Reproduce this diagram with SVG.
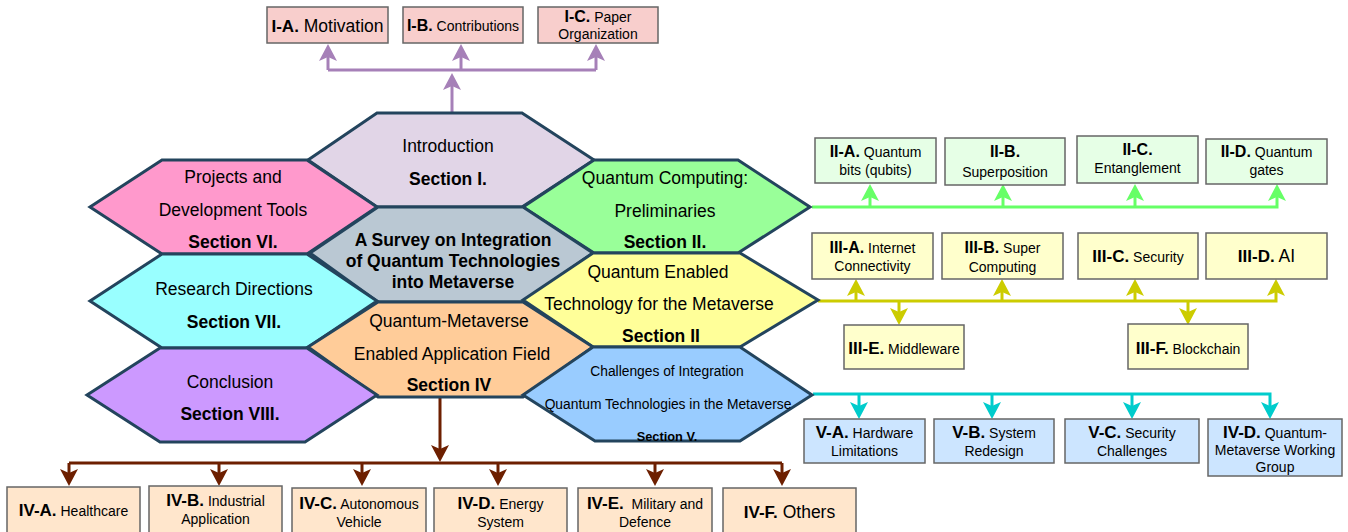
<svg xmlns="http://www.w3.org/2000/svg" width="1348" height="532" viewBox="0 0 1348 532">
<style>
text{font-family:"Liberation Sans",Arial,Helvetica,sans-serif;fill:#000;text-anchor:middle}
.hex{stroke:#23445D;stroke-width:3;stroke-linejoin:miter}
.h{font-size:17.5px}
.hb{font-size:17.5px;font-weight:bold}
.box{stroke:#666666;stroke-width:1.5}
.b{font-weight:bold;font-size:17px}
.b2{font-weight:bold;font-size:16px}
.n{font-size:14px}
.n16{font-size:17.5px}
.ln{fill:none;stroke-width:3}
.pink{fill:#F8CECC}.grn{fill:#E6FFE6}.yel{fill:#FFFFCC}.blu{fill:#CCE5FF}.brn{fill:#FFE6CC}
</style>
<defs>
<marker id="mp" markerUnits="userSpaceOnUse" markerWidth="17" markerHeight="18" viewBox="0 0 17 18" refX="5" refY="9" orient="auto"><path d="M0,0 L17,9 L0,18 L4,9 z" fill="#A680B8"/></marker>
<marker id="mg" markerUnits="userSpaceOnUse" markerWidth="17" markerHeight="18" viewBox="0 0 17 18" refX="5" refY="9" orient="auto"><path d="M0,0 L17,9 L0,18 L4,9 z" fill="#66FF66"/></marker>
<marker id="my" markerUnits="userSpaceOnUse" markerWidth="17" markerHeight="18" viewBox="0 0 17 18" refX="5" refY="9" orient="auto"><path d="M0,0 L17,9 L0,18 L4,9 z" fill="#CCCC00"/></marker>
<marker id="mc" markerUnits="userSpaceOnUse" markerWidth="17" markerHeight="18" viewBox="0 0 17 18" refX="5" refY="9" orient="auto"><path d="M0,0 L17,9 L0,18 L4,9 z" fill="#00CCCC"/></marker>
<marker id="mb" markerUnits="userSpaceOnUse" markerWidth="17" markerHeight="18" viewBox="0 0 17 18" refX="5" refY="9" orient="auto"><path d="M0,0 L17,9 L0,18 L4,9 z" fill="#6D1F00"/></marker>
</defs>
<rect width="1348" height="532" fill="#FFFFFF"/>

<g id="connectors">
<g stroke="#A680B8">
<path class="ln" d="M452,112 V85" marker-end="url(#mp)"/>
<path class="ln" d="M328,70 H596"/>
<path class="ln" d="M328,70 V56" marker-end="url(#mp)"/>
<path class="ln" d="M461,70 V56" marker-end="url(#mp)"/>
<path class="ln" d="M596,70 V56" marker-end="url(#mp)"/>
</g>
<g stroke="#66FF66">
<path class="ln" d="M812,207 H1277 V196" marker-end="url(#mg)"/>
<path class="ln" d="M870,207 V196" marker-end="url(#mg)"/>
<path class="ln" d="M1003,207 V196" marker-end="url(#mg)"/>
<path class="ln" d="M1135,207 V196" marker-end="url(#mg)"/>
</g>
<g stroke="#CCCC00">
<path class="ln" d="M818,301 H1276 V291" marker-end="url(#my)"/>
<path class="ln" d="M856,301 V291" marker-end="url(#my)"/>
<path class="ln" d="M1002,301 V291" marker-end="url(#my)"/>
<path class="ln" d="M1135,301 V291" marker-end="url(#my)"/>
<path class="ln" d="M899,301 V313" marker-end="url(#my)"/>
<path class="ln" d="M1188,301 V313" marker-end="url(#my)"/>
</g>
<g stroke="#00CCCC">
<path class="ln" d="M813,394 H1270 V407" marker-end="url(#mc)"/>
<path class="ln" d="M859,394 V407" marker-end="url(#mc)"/>
<path class="ln" d="M992,394 V407" marker-end="url(#mc)"/>
<path class="ln" d="M1132,394 V407" marker-end="url(#mc)"/>
</g>
<g stroke="#6D1F00">
<path class="ln" d="M440,398 V450" marker-end="url(#mb)"/>
<path class="ln" d="M69,463 H782"/>
<path class="ln" d="M69,463 V474" marker-end="url(#mb)"/>
<path class="ln" d="M219,463 V474" marker-end="url(#mb)"/>
<path class="ln" d="M362,463 V474" marker-end="url(#mb)"/>
<path class="ln" d="M498,463 V474" marker-end="url(#mb)"/>
<path class="ln" d="M655,463 V474" marker-end="url(#mb)"/>
<path class="ln" d="M782,463 V474" marker-end="url(#mb)"/>
</g>
</g>

<g id="hex-intro">
<polygon class="hex" fill="#E1D5E7" points="308,160 377,113 522,113 594,160 522,207 377,207"/>
<text class="h" x="448" y="152">Introduction</text>
<text class="hb" x="448" y="185">Section I.</text>
</g>
<g id="hex-projects">
<polygon class="hex" fill="#FF99CC" points="90,207 162,160 307,160 377,207 307,254 162,254"/>
<text class="h" x="233" y="183">Projects and</text>
<text class="h" x="233" y="216">Development Tools</text>
<text class="hb" x="233" y="248">Section VI.</text>
</g>
<g id="hex-qc">
<polygon class="hex" fill="#99FF99" points="523,207 594,160 738,160 810,207 738,253 594,253"/>
<text class="h" x="665" y="184">Quantum Computing:</text>
<text class="h" x="665" y="217">Preliminaries</text>
<text class="hb" x="665" y="248">Section II.</text>
</g>
<g id="hex-survey">
<polygon class="hex" fill="#BAC8D3" points="310,253 378,207 523,207 593,253 523,302 378,302"/>
<text class="hb" x="453" y="246">A Survey on Integration</text>
<text class="hb" x="453" y="267">of Quantum Technologies</text>
<text class="hb" x="453" y="288">into Metaverse</text>
</g>
<g id="hex-research">
<polygon class="hex" fill="#99FFFF" points="90,301 162,254 307,254 377,301 307,348 162,348"/>
<text class="h" x="234" y="295">Research Directions</text>
<text class="hb" x="234" y="328">Section VII.</text>
</g>
<g id="hex-qe">
<polygon class="hex" fill="#FFFF99" points="523,300 593,253 740,253 818,300 740,347 593,347"/>
<text class="h" x="658" y="278">Quantum Enabled</text>
<text class="h" x="659" y="310">Technology for the Metaverse</text>
<text class="hb" x="661" y="342">Section II</text>
</g>
<g id="hex-qm">
<polygon class="hex" fill="#FFCC99" points="308,347 378,302 523,302 593,347 523,397 378,397"/>
<text class="h" x="449" y="327">Quantum-Metaverse</text>
<text class="h" x="452" y="360">Enabled Application Field</text>
<text class="hb" x="449" y="391">Section IV</text>
</g>
<g id="hex-conclusion">
<polygon class="hex" fill="#CC99FF" points="87,395 160,348 307,348 377,395 305,442 160,442"/>
<text class="h" x="230" y="388">Conclusion</text>
<text class="hb" x="230" y="420">Section VIII.</text>
</g>
<g id="hex-challenges">
<polygon class="hex" fill="#99CCFF" points="523,395 593,347 740,347 812,395 740,441 595,441"/>
<text x="667" y="376" style="font-size:13.8px">Challenges of Integration</text>
<text x="668" y="409" style="font-size:13.8px">Quantum Technologies in the Metaverse</text>
<text x="667" y="441" style="font-size:12.8px;font-weight:bold">Section V.</text>
</g>

<g id="I-A"><rect class="box pink" x="267" y="7" width="121" height="36"/>
<text x="327.5" y="32"><tspan class="b">I-A.</tspan><tspan class="n16"> Motivation</tspan></text></g>
<g id="I-B"><rect class="box pink" x="403" y="7" width="120" height="36"/>
<text x="463" y="31"><tspan class="b2">I-B.</tspan><tspan class="n"> Contributions</tspan></text></g>
<g id="I-C"><rect class="box pink" x="538" y="7" width="120" height="36"/>
<text x="598" y="22"><tspan class="b2">I-C.</tspan><tspan class="n"> Paper</tspan></text>
<text class="n" x="598" y="39">Organization</text></g>

<g id="II-A"><rect class="box grn" x="815" y="138" width="121" height="45"/>
<text x="875.5" y="157"><tspan class="b2">II-A.</tspan><tspan class="n"> Quantum</tspan></text>
<text class="n" x="875.5" y="175">bits (qubits)</text></g>
<g id="II-B"><rect class="box grn" x="945" y="138" width="120" height="47"/>
<text class="b2" x="1005" y="157">II-B.</text>
<text class="n" x="1005" y="177">Superposition</text></g>
<g id="II-C"><rect class="box grn" x="1077" y="136" width="121" height="47"/>
<text class="b2" x="1137.5" y="155">II-C.</text>
<text class="n" x="1137.5" y="173">Entanglement</text></g>
<g id="II-D"><rect class="box grn" x="1206" y="139" width="121" height="45"/>
<text x="1266.5" y="157"><tspan class="b2">II-D.</tspan><tspan class="n"> Quantum</tspan></text>
<text class="n" x="1266.5" y="175">gates</text></g>

<g id="III-A"><rect class="box yel" x="812" y="233" width="121" height="46"/>
<text x="872.5" y="253"><tspan class="b2">III-A.</tspan><tspan class="n"> Internet</tspan></text>
<text class="n" x="872.5" y="271">Connectivity</text></g>
<g id="III-B"><rect class="box yel" x="942" y="233" width="121" height="46"/>
<text x="1002.5" y="253"><tspan class="b2">III-B.</tspan><tspan class="n"> Super</tspan></text>
<text class="n" x="1002.5" y="272">Computing</text></g>
<g id="III-C"><rect class="box yel" x="1078" y="233" width="120" height="46"/>
<text x="1138" y="262"><tspan class="b">III-C.</tspan><tspan class="n"> Security</tspan></text></g>
<g id="III-D"><rect class="box yel" x="1206" y="233" width="121" height="46"/>
<text x="1266.5" y="262"><tspan class="b">III-D.</tspan><tspan class="n16"> AI</tspan></text></g>
<g id="III-E"><rect class="box yel" x="844" y="325" width="120" height="44"/>
<text x="904" y="354"><tspan class="b">III-E.</tspan><tspan class="n"> Middleware</tspan></text></g>
<g id="III-F"><rect class="box yel" x="1128" y="324" width="120" height="45"/>
<text x="1188" y="354"><tspan class="b">III-F.</tspan><tspan class="n"> Blockchain</tspan></text></g>

<g id="V-A"><rect class="box blu" x="804" y="419" width="121" height="44"/>
<text x="864.5" y="438"><tspan class="b">V-A.</tspan><tspan class="n"> Hardware</tspan></text>
<text class="n" x="864.5" y="456">Limitations</text></g>
<g id="V-B"><rect class="box blu" x="934" y="419" width="120" height="44"/>
<text x="994" y="438"><tspan class="b">V-B.</tspan><tspan class="n"> System</tspan></text>
<text class="n" x="994" y="456">Redesign</text></g>
<g id="V-C"><rect class="box blu" x="1065" y="419" width="134" height="44"/>
<text x="1132" y="438"><tspan class="b">V-C.</tspan><tspan class="n"> Security</tspan></text>
<text class="n" x="1132" y="456">Challenges</text></g>
<g id="IV-D-wg"><rect class="box blu" x="1208" y="419" width="134" height="57"/>
<text x="1275" y="438"><tspan class="b">IV-D.</tspan><tspan class="n"> Quantum-</tspan></text>
<text class="n" x="1275" y="455">Metaverse Working</text>
<text class="n" x="1275" y="472">Group</text></g>

<g id="IV-A"><rect class="box brn" x="7" y="487" width="133" height="50"/>
<text x="73.5" y="516"><tspan class="b">IV-A.</tspan><tspan class="n"> Healthcare</tspan></text></g>
<g id="IV-B"><rect class="box brn" x="149" y="486" width="133" height="50"/>
<text x="215.5" y="506"><tspan class="b">IV-B.</tspan><tspan class="n"> Industrial</tspan></text>
<text class="n" x="215.5" y="524">Application</text></g>
<g id="IV-C"><rect class="box brn" x="292" y="488" width="134" height="50"/>
<text x="359" y="509"><tspan class="b">IV-C.</tspan><tspan class="n"> Autonomous</tspan></text>
<text class="n" x="359" y="527">Vehicle</text></g>
<g id="IV-D"><rect class="box brn" x="434" y="488" width="133" height="50"/>
<text x="500.5" y="509"><tspan class="b">IV-D.</tspan><tspan class="n"> Energy</tspan></text>
<text class="n" x="500.5" y="527">System</text></g>
<g id="IV-E"><rect class="box brn" x="578" y="488" width="134" height="50"/>
<text x="645" y="509" xml:space="preserve"><tspan class="b">IV-E.</tspan><tspan class="n">  Military and</tspan></text>
<text class="n" x="645" y="527">Defence</text></g>
<g id="IV-F"><rect class="box brn" x="723" y="488" width="133" height="50"/>
<text x="789.5" y="518"><tspan class="b">IV-F.</tspan><tspan class="n16"> Others</tspan></text></g>
</svg>
